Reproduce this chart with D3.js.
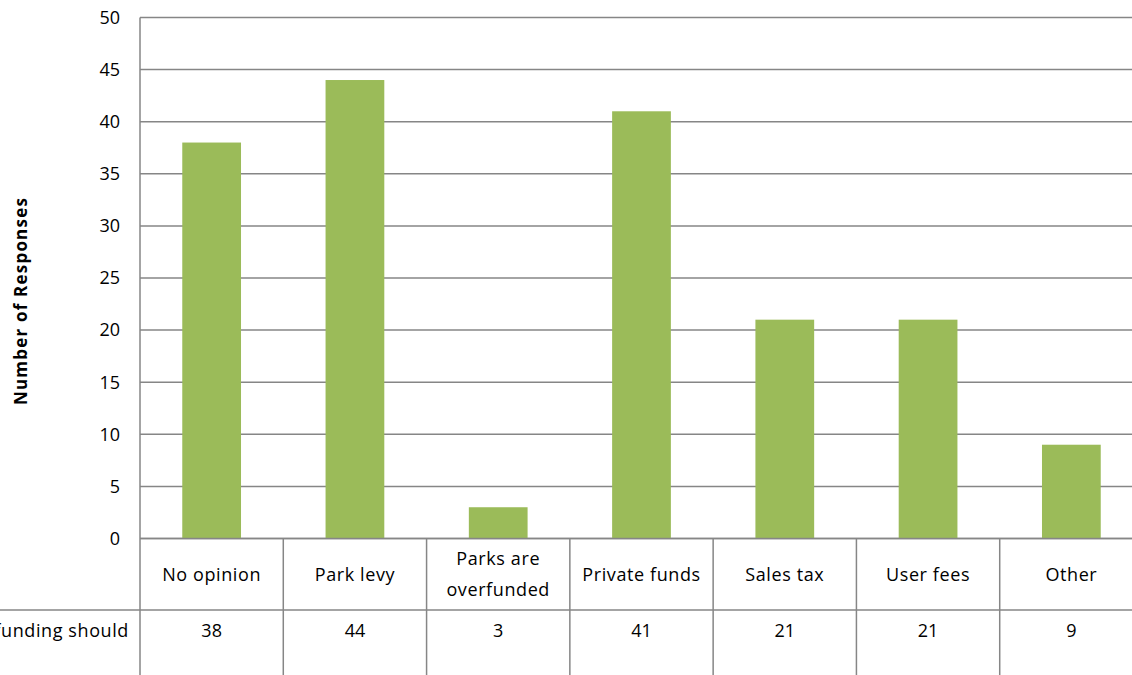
<!DOCTYPE html>
<html>
<head>
<meta charset="utf-8">
<script src="https://cdn.jsdelivr.net/npm/d3@7"></script>
<style>
  html, body { margin: 0; padding: 0; background: #fff; overflow: hidden; }
  svg { display: block; }
  text { font-family: "Open Sans", "Noto Sans", sans-serif; fill: #000; }
</style>
</head>
<body>
<svg id="chart" width="1132" height="675"></svg>
<script>
// Funding preferences: responses per option
const categories = ["No opinion", "Park levy", "Parks are\noverfunded", "Private funds", "Sales tax", "User fees", "Other"];
const responses = [38, 44, 3, 41, 21, 21, 9];
const yTicks = [0, 5, 10, 15, 20, 25, 30, 35, 40, 45, 50];
const seriesName = "Park funding should";
const yTitle = "Number of Responses";

const svg = d3.select("#chart");
const W = 1132, H = 675;

const plot = { left: 140, right: 1143, top: 17.5, bottom: 538.5 };
const tableRow1 = plot.bottom;     // category row top
const tableRow2 = 610;             // value row top

const x = d3.scaleBand().domain(categories).range([plot.left, plot.right]).padding(0);
const y = d3.scaleLinear().domain([0, 50]).range([plot.bottom, plot.top]);

const gridColor = "#868686";
const barColor = "#9bbb59";
const fs = 18;
const ls = 0.6;

// Horizontal gridlines
svg.append("g")
  .selectAll("line")
  .data(yTicks)
  .join("line")
  .attr("x1", plot.left).attr("x2", plot.right)
  .attr("y1", d => y(d)).attr("y2", d => y(d))
  .attr("stroke", gridColor).attr("stroke-width", 1.5);

// Y tick labels
svg.append("g")
  .selectAll("text")
  .data(yTicks)
  .join("text")
  .attr("x", 120)
  .attr("y", d => y(d))
  .attr("dy", "0.35em")
  .attr("text-anchor", "end")
  .attr("font-size", fs)
  .text(d => d);

// Bars
const barFrac = 0.41;
svg.append("g")
  .selectAll("rect")
  .data(categories)
  .join("rect")
  .attr("x", d => x(d) + x.bandwidth() * (1 - barFrac) / 2)
  .attr("width", x.bandwidth() * barFrac)
  .attr("y", (d, i) => y(responses[i]))
  .attr("height", (d, i) => y(0) - y(responses[i]))
  .attr("fill", barColor);

// Data table lines
const table = svg.append("g");
table.append("line")
  .attr("x1", plot.left).attr("x2", plot.right)
  .attr("y1", tableRow1).attr("y2", tableRow1)
  .attr("stroke", gridColor).attr("stroke-width", 1.5);
table.append("line")
  .attr("x1", 0).attr("x2", plot.right)
  .attr("y1", tableRow2).attr("y2", tableRow2)
  .attr("stroke", gridColor).attr("stroke-width", 1.5);
// Left axis line
table.append("line")
  .attr("x1", plot.left).attr("x2", plot.left)
  .attr("y1", plot.top).attr("y2", H)
  .attr("stroke", gridColor).attr("stroke-width", 1.5);
// Column dividers
table.selectAll("line.div")
  .data(categories.slice(1))
  .join("line")
  .attr("class", "div")
  .attr("x1", d => x(d)).attr("x2", d => x(d))
  .attr("y1", tableRow1).attr("y2", H)
  .attr("stroke", gridColor).attr("stroke-width", 1.5);

// Category labels
const catY = (tableRow1 + tableRow2) / 2;
table.selectAll("text.cat")
  .data(categories)
  .join("text")
  .attr("class", "cat")
  .attr("text-anchor", "middle")
  .attr("font-size", fs)
  .attr("letter-spacing", ls)
  .attr("x", d => x(d) + x.bandwidth() / 2)
  .attr("y", catY)
  .each(function(d) {
    const lines = d.split("\n");
    const t = d3.select(this);
    const lh = 31;
    lines.forEach((ln, i) => {
      t.append("tspan")
        .attr("x", x(d) + x.bandwidth() / 2)
        .attr("y", catY + (i - (lines.length - 1) / 2) * lh)
        .attr("dy", "0.35em")
        .text(ln);
    });
  });

// Values row
const valY = 631;
table.selectAll("text.val")
  .data(categories)
  .join("text")
  .attr("class", "val")
  .attr("text-anchor", "middle")
  .attr("font-size", fs)
  .attr("x", d => x(d) + x.bandwidth() / 2)
  .attr("y", valY)
  .attr("dy", "0.35em")
  .text((d, i) => responses[i]);

// Series label in the row header
table.append("text")
  .attr("x", 129)
  .attr("y", valY)
  .attr("dy", "0.35em")
  .attr("text-anchor", "end")
  .attr("font-size", fs)
  .attr("letter-spacing", ls)
  .text(seriesName);

// Y axis title
svg.append("text")
  .attr("transform", "translate(21," + 301 + ") rotate(-90)")
  .attr("text-anchor", "middle")
  .attr("dy", "0.35em")
  .attr("font-size", 17)
  .attr("font-weight", "bold")
  .attr("letter-spacing", 1.2)
  .text(yTitle);
</script>
</body>
</html>
